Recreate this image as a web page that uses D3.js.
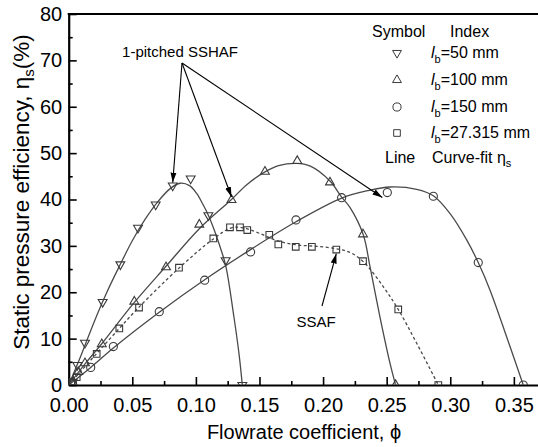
<!DOCTYPE html>
<html><head><meta charset="utf-8">
<script src="https://cdn.jsdelivr.net/npm/d3@7"></script>
<style>
body{margin:0;background:#fff;}
svg{display:block;font-family:"Liberation Sans",Arial,sans-serif;}
</style></head>
<body><svg id="c" width="538" height="447"></svg>
<script>
// ---- data ----
const xTicks = [0.00,0.05,0.10,0.15,0.20,0.25,0.30,0.35];
const yTicks = [0,10,20,30,40,50,60,70,80];

// l_b = 50 mm (down triangles)
const phi50 = [0.003,0.0068,0.0128,0.0267,0.0406,0.0545,0.0684,0.0818,0.0959,0.1098,0.1234,0.1365];
const eta50 = [0.6,4.3,9.1,17.9,26.0,33.9,38.9,43.0,44.5,36.6,26.9,0];
const fitPhi50 = [0,0.01,0.02,0.03,0.04,0.05,0.06,0.07,0.08,0.0875,0.095,0.1006,0.1058,0.1098,0.1150,0.1190,0.1234,0.1300,0.1340,0.1365];
const fitEta50 = [0,6.6,13.6,20.0,25.7,31.1,35.7,39.5,42.4,43.5,43.0,41.3,38.8,36.6,33.0,29.8,25.8,14.5,6.5,0];

// l_b = 100 mm (up triangles)
const phi100 = [0.003,0.0075,0.0128,0.026,0.0516,0.0765,0.1027,0.1280,0.1543,0.1797,0.2054,0.2314,0.2570];
const eta100 = [0.6,2.8,4.7,8.8,18.0,25.4,34.6,39.9,46.0,48.3,43.7,32.5,0];
const fitPhi100 = [0,0.013,0.026,0.0516,0.0765,0.1027,0.128,0.140,0.154,0.165,0.1792,0.190,0.2054,0.2146,0.2211,0.2316,0.2369,0.2447,0.2526,0.2570];
const fitEta100 = [0,4.6,8.9,17.8,25.6,33.7,40.0,43.2,45.9,47.3,47.8,47.2,44.0,40.5,38.3,32.4,25.5,14.7,4.7,0];

// l_b = 150 mm (circles)
const phi150 = [0.003,0.0173,0.0351,0.0712,0.1069,0.1430,0.1787,0.2146,0.2505,0.2867,0.3220,0.3574];
const eta150 = [0.5,3.8,8.3,15.8,22.6,28.7,35.6,40.4,41.5,40.7,26.4,0];
const fitPhi150 = [0,0.0173,0.0351,0.0712,0.1069,0.143,0.1787,0.2146,0.2350,0.2526,0.2736,0.2867,0.2997,0.3129,0.322,0.3312,0.3443,0.3574];
const fitEta150 = [0,3.8,8.0,15.7,22.7,29.2,35.2,40.3,41.9,42.7,42.2,40.8,37.0,31.3,26.4,20.5,10.4,0];

// l_b = 27.315 mm (squares, SSAF)
const phiSq = [0.002,0.0063,0.022,0.0398,0.0553,0.0867,0.1137,0.1268,0.1347,0.1404,0.1577,0.1648,0.1785,0.1912,0.2104,0.2314,0.2591,0.2906];
const etaSq = [0.7,1.7,6.7,12.2,16.7,25.3,31.6,34.0,34.0,33.4,32.4,30.3,29.8,29.8,29.2,26.7,16.3,0];
const fitPhiSq = [0,0.022,0.0398,0.0553,0.0867,0.1137,0.128,0.137,0.150,0.165,0.180,0.195,0.210,0.2211,0.2316,0.2473,0.2591,0.2736,0.2906];
const fitEtaSq = [0,6.8,12.2,16.8,25.2,31.5,33.9,33.9,32.7,31.0,30.2,29.9,29.4,28.6,26.6,21.2,16.3,9.0,0];

const legendLabels = ["=50 mm","=100 mm","=150 mm","=27.315 mm"];

// ---- drawing ----
const svg = d3.select("#c");
const L = 68.7, R = 539.3, T = 14, B = 385;
const x = d3.scaleLinear().domain([0,0.37]).range([L,R]);
const y = d3.scaleLinear().domain([0,80]).range([B,T]);
const lineCol = "#4a4a4a", markCol = "#3a3a3a";

svg.append("defs").append("clipPath").attr("id","clip")
  .append("rect").attr("x",L).attr("y",T).attr("width",R-L).attr("height",B-T);
const defs = svg.select("defs");
defs.append("marker").attr("id","arr").attr("viewBox","0 0 10 10")
  .attr("refX",10).attr("refY",5).attr("markerWidth",10).attr("markerHeight",10)
  .attr("markerUnits","userSpaceOnUse").attr("orient","auto")
  .append("path").attr("d","M0,2 L10,5 L0,8 Z").attr("fill","#000");

// axes
const xAxis = d3.axisBottom(x).tickValues(xTicks).tickFormat(d3.format(".2f"))
  .tickSize(-8).tickSizeOuter(0).tickPadding(13);
const gx = svg.append("g").attr("transform",`translate(0,${B})`).call(xAxis);
const yAxis = d3.axisLeft(y).tickValues(yTicks).tickFormat(d3.format("d"))
  .tickSize(-8).tickSizeOuter(0).tickPadding(6.5);
const gy = svg.append("g").attr("transform",`translate(${L},0)`).call(yAxis);
// minor ticks
const gxm = svg.append("g").attr("transform",`translate(0,${B})`)
  .call(d3.axisBottom(x).tickValues(d3.range(0.025,0.37,0.05)).tickSize(-4).tickFormat(""));
const gym = svg.append("g").attr("transform",`translate(${L},0)`)
  .call(d3.axisLeft(y).tickValues(d3.range(5,80,10)).tickSize(-4).tickFormat(""));
[gxm,gym].forEach(g=>g.select(".domain").remove());
[gx,gy,gxm,gym].forEach(g=>{
  g.selectAll("line").attr("stroke","#000").attr("stroke-width",1.6);
  g.select(".domain").attr("stroke","#000").attr("stroke-width",2.2);
  g.selectAll("text").attr("font-size",20).attr("fill","#000")
   .attr("font-family","'Liberation Sans',Arial,sans-serif");
});
// top frame
svg.append("line").attr("x1",L-1).attr("x2",R).attr("y1",T).attr("y2",T)
  .attr("stroke","#000").attr("stroke-width",2.2);
svg.append("line").attr("x1",R).attr("x2",R).attr("y1",T).attr("y2",B)
  .attr("stroke","#000").attr("stroke-width",2.2);

// axis titles
svg.append("text").attr("x",304).attr("y",439).attr("text-anchor","middle")
  .attr("font-size",20).text("Flowrate coefficient, \u03D5");
const yt = svg.append("text").attr("transform","translate(29,192) rotate(-90)")
  .attr("text-anchor","middle").attr("font-size",22.5);
yt.append("tspan").text("Static pressure efficiency, \u03B7");
yt.append("tspan").attr("font-size",15).attr("dy",5).text("s");
yt.append("tspan").attr("dy",-5).text("(%)");

// curves
const plot = svg.append("g").attr("clip-path","url(#clip)");
const lineGen = d3.line().x(d=>x(d[0])).y(d=>y(d[1])).curve(d3.curveCatmullRom.alpha(0.5));
const fits = [
  {p:fitPhi50,e:fitEta50,dash:null},
  {p:fitPhi100,e:fitEta100,dash:null},
  {p:fitPhi150,e:fitEta150,dash:null},
  {p:fitPhiSq,e:fitEtaSq,dash:"3,2.5"}
];
fits.forEach(f=>{
  plot.append("path").datum(d3.zip(f.p,f.e)).attr("d",lineGen)
    .attr("fill","none").attr("stroke",lineCol).attr("stroke-width",1.3)
    .attr("stroke-dasharray",f.dash);
});

// markers
const symDown = d3.symbol(d3.symbolTriangle,34), symUp = d3.symbol(d3.symbolTriangle,34);
const symCirc = d3.symbol(d3.symbolCircle,52), symSq = d3.symbol(d3.symbolSquare,44);
const series = [
  {p:phi50,e:eta50,sym:symDown,rot:180},
  {p:phi100,e:eta100,sym:symUp,rot:0},
  {p:phi150,e:eta150,sym:symCirc,rot:0},
  {p:phiSq,e:etaSq,sym:symSq,rot:0}
];
series.forEach(s=>{
  plot.append("g").selectAll("path").data(d3.zip(s.p,s.e)).join("path")
    .attr("d",s.sym()).attr("transform",d=>`translate(${x(d[0])},${y(d[1])}) rotate(${s.rot})`)
    .attr("fill","none").attr("stroke",markCol).attr("stroke-width",1.1);
});

// legend
const lg = svg.append("g").attr("font-size",16).attr("fill","#000");
lg.append("text").attr("x",372).attr("y",37).text("Symbol");
lg.append("text").attr("x",450).attr("y",37).text("Index");
const lgY = [53,80,107,133];
series.forEach((s,i)=>{
  lg.append("path").attr("d",s.sym()).attr("transform",`translate(397,${lgY[i]}) rotate(${s.rot})`)
    .attr("fill","none").attr("stroke",markCol).attr("stroke-width",1);
  const t = lg.append("text").attr("x",431).attr("y",lgY[i]+5);
  t.append("tspan").attr("font-style","italic").text("l");
  t.append("tspan").attr("font-size",11).attr("dy",5).text("b");
  t.append("tspan").attr("dy",-5).text(legendLabels[i]);
});
lg.append("text").attr("x",385).attr("y",163).text("Line");
const cf = lg.append("text").attr("x",432).attr("y",163);
cf.append("tspan").text("Curve-fit \u03B7");
cf.append("tspan").attr("font-size",11).attr("dy",4).text("s");

// annotations
svg.append("text").attr("x",180).attr("y",57).attr("text-anchor","middle")
  .attr("font-size",15).text("1-pitched SSHAF");
const src = [182,63];
const targets = [[x(0.0818),y(43.0)-3],[x(0.1280),y(39.9)-3],[x(0.2505)-5,y(41.5)+5]];
targets.forEach(t=>{
  svg.append("line").attr("x1",src[0]).attr("y1",src[1]).attr("x2",t[0]).attr("y2",t[1])
    .attr("stroke","#000").attr("stroke-width",1.1).attr("marker-end","url(#arr)");
});
svg.append("text").attr("x",316).attr("y",327).attr("text-anchor","middle")
  .attr("font-size",15).text("SSAF");
svg.append("line").attr("x1",322).attr("y1",306).attr("x2",x(0.2104)).attr("y2",y(29.2)+4)
  .attr("stroke","#000").attr("stroke-width",1.1).attr("marker-end","url(#arr)");
</script></body></html>
